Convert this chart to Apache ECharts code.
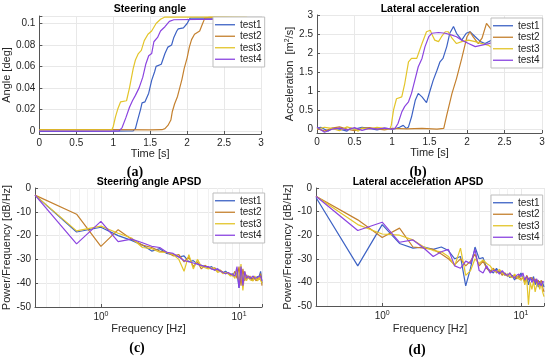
<!DOCTYPE html>
<html><head><meta charset="utf-8">
<script src="https://cdn.jsdelivr.net/npm/echarts@6/dist/echarts.min.js"></script>
<style>html,body{margin:0;padding:0;background:#fff}#c{width:550px;height:357px}</style>
</head><body><div id="c"></div>
<script>
// ---------- DATA ----------
const seriesNames = ['test1', 'test2', 'test3', 'test4'];
const seriesColors = ['#3D62C4', '#C4802E', '#E3C52A', '#8B44E0'];

// (a) Steering angle [deg] vs time [s]
const steerTest1 = [[0,-0.0005],[0.5,-0.0006],[1.0,-0.0004],[1.2,-0.0002],[1.27,0],[1.3,0.002],[1.33,0.01],[1.37,0.02],[1.39,0.026],[1.43,0.027],[1.48,0.035],[1.52,0.047],[1.56,0.055],[1.58,0.06],[1.65,0.062],[1.70,0.072],[1.74,0.078],[1.79,0.08],[1.82,0.087],[1.86,0.093],[1.88,0.095],[1.95,0.096],[2.0,0.1],[2.04,0.105],[2.5,0.1052],[3.0,0.1048]];
const steerTest2 = [[0,0.001],[1.0,0.001],[1.5,0.0008],[1.66,0.001],[1.70,0.002],[1.74,0.005],[1.78,0.01],[1.80,0.018],[1.83,0.025],[1.87,0.032],[1.90,0.04],[1.93,0.048],[1.96,0.058],[2.0,0.068],[2.03,0.078],[2.06,0.085],[2.1,0.09],[2.17,0.093],[2.21,0.1],[2.24,0.105],[2.3,0.1058],[3.0,0.1052]];
const steerTest3 = [[0,0.0008],[0.98,0.0008],[1.0,0.004],[1.03,0.013],[1.06,0.02],[1.1,0.027],[1.18,0.028],[1.22,0.04],[1.27,0.058],[1.3,0.066],[1.34,0.072],[1.38,0.075],[1.42,0.084],[1.47,0.09],[1.52,0.093],[1.58,0.1],[1.64,0.104],[1.7,0.106],[2.5,0.106],[2.8,0.1058],[2.9,0.1045],[3.0,0.1035]];
const steerTest4 = [[0,-0.0004],[1.0,-0.0003],[1.08,0],[1.12,0.003],[1.17,0.012],[1.22,0.022],[1.26,0.028],[1.3,0.033],[1.35,0.04],[1.4,0.05],[1.44,0.062],[1.48,0.07],[1.52,0.072],[1.55,0.083],[1.6,0.087],[1.64,0.093],[1.7,0.097],[1.76,0.102],[1.82,0.1035],[2.5,0.104],[2.75,0.1035],[3.0,0.1015]];

// (b) Lateral acceleration [m^2/s] vs time [s]
const accTest1 = [[0,0.03],[0.05,0.05],[0.1,0],[0.15,-0.05],[0.2,0.02],[0.3,0.0],[0.4,-0.05],[0.45,0.03],[0.5,0.0],[0.6,0.05],[0.7,0.02],[0.8,-0.02],[0.9,0.03],[1.0,0.0],[1.06,0.02],[1.1,0.05],[1.15,0.1],[1.19,0.02],[1.22,0.06],[1.26,0.32],[1.31,0.76],[1.35,0.94],[1.4,0.85],[1.46,0.7],[1.51,1.03],[1.55,1.29],[1.6,1.55],[1.64,1.77],[1.68,1.86],[1.73,2.17],[1.77,2.52],[1.82,2.7],[1.86,2.52],[1.93,2.34],[1.99,2.52],[2.04,2.56],[2.11,2.43],[2.18,2.3],[2.24,2.25],[2.33,2.34],[2.4,2.25],[2.47,2.17],[2.55,2.12],[2.64,2.17],[2.73,2.21],[2.82,2.17],[2.91,2.08],[3.0,2.04]];
const accTest2 = [[0,0.02],[0.1,-0.05],[0.2,0.03],[0.3,0.06],[0.4,0.0],[0.5,-0.04],[0.6,0.02],[0.7,0.04],[0.8,0.01],[0.9,-0.02],[1.0,0.02],[1.2,0.01],[1.4,0.02],[1.6,0.0],[1.69,0.02],[1.73,0.37],[1.8,0.94],[1.86,1.33],[1.93,1.86],[2.0,2.43],[2.04,2.56],[2.08,2.43],[2.15,2.25],[2.2,2.39],[2.26,2.78],[2.28,2.82],[2.33,2.6],[2.38,2.43],[2.47,2.25],[2.55,2.21],[2.64,2.25],[2.73,2.12],[2.82,2.17],[2.91,2.12],[3.0,2.08]];
const accTest3 = [[0,0.0],[0.1,0.05],[0.2,0.02],[0.3,-0.04],[0.4,0.06],[0.5,0.0],[0.55,-0.05],[0.6,0.03],[0.7,0.0],[0.8,0.05],[0.9,0.02],[0.97,0.0],[0.99,0.1],[1.02,0.5],[1.06,0.8],[1.13,0.85],[1.17,1.2],[1.22,1.77],[1.26,1.86],[1.33,1.86],[1.4,2.25],[1.46,2.56],[1.51,2.6],[1.53,2.5],[1.57,2.34],[1.62,2.3],[1.66,2.43],[1.71,2.56],[1.75,2.56],[1.8,2.39],[1.86,2.25],[1.93,2.3],[2.02,2.34],[2.11,2.3],[2.2,2.25],[2.29,2.2],[2.38,2.08],[2.47,2.12],[2.55,2.17],[2.64,2.17],[2.73,2.12],[2.82,2.17],[2.91,2.12],[3.0,2.04]];
const accTest4 = [[0,0.05],[0.1,-0.08],[0.2,0.0],[0.3,0.03],[0.4,-0.02],[0.5,0.04],[0.6,-0.03],[0.7,0.02],[0.8,0.0],[0.9,0.03],[1.0,0.0],[1.04,0.02],[1.08,0.15],[1.13,0.45],[1.17,0.6],[1.22,0.72],[1.26,0.94],[1.31,1.33],[1.35,1.64],[1.4,1.86],[1.44,2.17],[1.49,2.43],[1.53,2.52],[1.62,2.54],[1.71,2.52],[1.8,2.47],[1.86,2.43],[1.93,2.34],[2.02,2.25],[2.11,2.17],[2.2,2.21],[2.29,2.25],[2.38,2.3],[2.42,2.34],[2.51,2.25],[2.6,2.3],[2.69,2.25],[2.78,2.21],[2.91,2.17],[3.0,2.08]];

// APSD frequency bins [Hz]
const psdFreq = [0.3333,0.6667,1,1.3333,1.6667,2,2.3333,2.6667,3,3.3333,3.6667,4,4.3333,4.6667,5,5.3333,5.6667,6,6.3333,6.6667,7,7.3333,7.6667,8,8.3333,8.6667,9,9.3333,9.6667,10,10.3333,10.6667,11,11.3333,11.6667,12,12.3333,12.6667,13,13.3333,13.6667,14,14.3333,14.6667];

// (c) Steering angle APSD [dB/Hz]
const steerPsd1 = [-3,-18.5,-16.5,-20,-22,-24,-26.5,-25.5,-27.5,-28,-29,-28.5,-31,-30.5,-32,-32.5,-33,-33.5,-33,-34.5,-34,-35,-35.5,-35,-36,-36.5,-36,-37,-35.5,-42,-34,-40,-36,-38.5,-37,-38,-37.5,-38,-38.5,-37.5,-38,-37,-35,-40];
const steerPsd2 = [-3,-11,-24.5,-17.5,-21.5,-24,-25,-26.5,-27,-28.5,-28,-31,-29,-33,-31,-34,-32.5,-33.5,-34,-33.5,-35,-34.5,-35.5,-36,-35.5,-36.5,-37,-35,-38,-33,-41,-34,-39,-36.5,-38,-37,-39,-37.5,-38,-39,-37.5,-38.5,-36,-41];
const steerPsd3 = [-3,-18,-16,-19,-21,-25,-25.5,-27,-27,-28,-30,-35,-28,-34,-30,-33,-33.5,-34,-33.5,-34,-35.5,-35,-36,-35.5,-36,-37,-36.5,-38,-34,-40,-32,-43,-35,-39,-37,-38.5,-38,-39,-37,-38,-39,-37.5,-38,-40];
const steerPsd4 = [-3,-23.5,-14,-22.5,-21.5,-23,-24.5,-25,-27,-27.5,-29,-30.5,-31,-31.5,-32,-32.5,-33,-33,-34,-34.5,-34,-35,-35.5,-36,-35.5,-36,-36.5,-37,-33,-42,-33,-41,-35,-38,-37,-38,-37.5,-37,-38,-38.5,-37.5,-38,-37,-39];

// (d) Lateral acceleration APSD [dB/Hz]
const accPsd1 = [-4,-33,-15.5,-23.5,-25.5,-25,-26,-25,-26.5,-30,-29,-41.5,-34,-25,-30,-29.5,-34,-35,-36,-34,-36,-35.5,-37,-36.5,-38,-37,-39,-37.5,-38,-36,-38,-39.5,-37.5,-41,-38,-39,-37.5,-41,-39,-42,-39.5,-41,-40,-42];
const accPsd2 = [-3.5,-13.5,-21,-17,-25,-25.5,-26,-28,-30,-32.5,-30,-33,-31,-28,-33,-31,-34,-35.5,-34,-36,-35,-37,-36,-37.5,-36,-38,-37,-38.5,-37,-39,-38,-40,-37,-38.5,-39,-38,-40,-38.5,-40.5,-39,-41.5,-39,-42,-44];
const accPsd3 = [-3.5,-15.5,-19.5,-20,-22,-25,-26.5,-27,-29,-33,-25.5,-37,-35,-30,-32,-30.5,-32,-33,-35,-35.5,-34.5,-36,-37,-36.5,-37.5,-38,-36.5,-37.5,-38.5,-39,-37.5,-41,-38,-49.5,-40,-43,-39.5,-44,-41,-40,-43,-40,-44,-46];
const accPsd4 = [-3.5,-18,-14.5,-23,-22,-25.5,-29,-27,-26,-33,-34,-31,-32,-26,-35,-36,-33,-36,-35,-35,-36.5,-35,-36.5,-37,-36,-37.5,-38,-37,-36.5,-37.5,-36,-39,-37.5,-39,-38,-40,-38.5,-40,-38.5,-41,-40,-41.5,-39.5,-40];

// minor grid positions of the log frequency axes
const logMinor = [0.4,0.5,0.6,0.7,0.8,0.9,2,3,4,5,6,7,8,9];

// ---------- CHART ----------
const FONT = '"Liberation Sans", Arial, sans-serif';
const TXT = '#262626';
const GRIDC = '#e8e8e8';

const grids = [
  {left: 39, top: 16, width: 222, height: 118},
  {left: 317, top: 15, width: 225, height: 118},
  {left: 35, top: 188, width: 227, height: 119},
  {left: 316, top: 188, width: 228, height: 118}
];

function baseAxis(extra) {
  return Object.assign({
    axisLine: {show: true, onZero: false, lineStyle: {color: '#555', width: 1}},
    axisTick: {show: true, inside: true, length: 3, lineStyle: {color: '#555'}},
    axisLabel: {color: TXT, fontSize: 10, fontFamily: FONT},
    splitLine: {show: true, lineStyle: {color: GRIDC, width: 1}},
    nameTextStyle: {color: TXT, fontSize: 11, fontFamily: FONT},
    nameLocation: 'middle'
  }, extra);
}

function onMultiple(v, step) {
  const q = v / step;
  return Math.abs(q - Math.round(q)) < 1e-6;
}

const logLabel = {
  color: TXT, fontSize: 10, fontFamily: FONT, margin: 4,
  formatter: function (v) {
    if (Math.abs(v - 1) < 1e-6) return '10{sup|0}';
    if (Math.abs(v - 10) < 1e-6) return '10{sup|1}';
    return '';
  },
  rich: {sup: {fontSize: 7, color: TXT, fontFamily: FONT, verticalAlign: 'top', padding: [0, 0, 6, 0]}}
};

const xAxes = [
  baseAxis({gridIndex: 0, type: 'value', min: 0, max: 3, interval: 0.5, name: 'Time [s]', nameGap: 14,
    axisLabel: {color: TXT, fontSize: 10, fontFamily: FONT, margin: 4}}),
  baseAxis({gridIndex: 1, type: 'value', min: 0, max: 3, interval: 0.5, name: 'Time [s]', nameGap: 14,
    axisLabel: {color: TXT, fontSize: 10, fontFamily: FONT, margin: 4}}),
  baseAxis({gridIndex: 2, type: 'log', logBase: 10, min: 1/3, max: 44/3, name: 'Frequency [Hz]', nameGap: 16,
    axisLabel: logLabel}),
  baseAxis({gridIndex: 3, type: 'log', logBase: 10, min: 1/3, max: 44/3, name: 'Frequency [Hz]', nameGap: 17,
    axisLabel: logLabel})
];

const yAxes = [
  baseAxis({gridIndex: 0, type: 'value', min: -0.003, max: 0.107, splitNumber: 5, name: 'Angle [deg]', nameGap: 24,
    axisLabel: {color: TXT, fontSize: 10, fontFamily: FONT, margin: 4,
      formatter: v => onMultiple(v, 0.02) ? String(Math.round(v * 100) / 100) : ''}}),
  baseAxis({gridIndex: 1, type: 'value', min: -0.1, max: 3, splitNumber: 6, name: 'Acceleration  [m{sup|2}/s]', nameGap: 17,
    nameTextStyle: {color: TXT, fontSize: 11, fontFamily: FONT,
      rich: {sup: {fontSize: 7, color: TXT, fontFamily: FONT, verticalAlign: 'top', padding: [0, 0, 6, 0]}}},
    axisLabel: {color: TXT, fontSize: 10, fontFamily: FONT, margin: 4,
      formatter: v => onMultiple(v, 0.5) ? String(Math.round(v * 10) / 10) : ''}}),
  baseAxis({gridIndex: 2, type: 'value', min: -50, max: 0, interval: 10, name: 'Power/Frequency [dB/Hz]', nameGap: 18,
    axisLabel: {color: TXT, fontSize: 10, fontFamily: FONT, margin: 4}}),
  baseAxis({gridIndex: 3, type: 'value', min: -50, max: 0, interval: 10, name: 'Power/Frequency [dB/Hz]', nameGap: 20,
    axisLabel: {color: TXT, fontSize: 10, fontFamily: FONT, margin: 4}})
];

const panelData = [
  [steerTest1, steerTest2, steerTest3, steerTest4],
  [accTest1, accTest2, accTest3, accTest4],
  [steerPsd1, steerPsd2, steerPsd3, steerPsd4].map(arr => arr.map((v, i) => [psdFreq[i], v])),
  [accPsd1, accPsd2, accPsd3, accPsd4].map(arr => arr.map((v, i) => [psdFreq[i], v]))
];

const series = [];
// faint minor grid lines of the log frequency axes, kept beneath the data lines
[2, 3].forEach(p => {
  series.push({
    type: 'line', xAxisIndex: p, yAxisIndex: p, data: [], z: 0, silent: true,
    markLine: {
      z: 0, silent: true, symbol: ['none', 'none'], animation: false,
      label: {show: false},
      emphasis: {disabled: true},
      lineStyle: {color: '#f1f1f1', type: 'solid', width: 1},
      data: logMinor.map(v => ({xAxis: v}))
    }
  });
});
panelData.forEach((group, p) => {
  group.forEach((d, i) => {
    series.push({
      name: seriesNames[i], type: 'line', xAxisIndex: p, yAxisIndex: p,
      data: d, symbol: 'none', showSymbol: false, z: 3,
      lineStyle: {color: seriesColors[i], width: 1.2, type: 'solid'},
      itemStyle: {color: seriesColors[i]}
    });
  });
});

const legendPos = [
  {left: 213, top: 17}, {left: 491, top: 18}, {left: 213, top: 193}, {left: 491, top: 195}
];
const legends = legendPos.map(pos => ({
  show: true, left: pos.left, top: pos.top, orient: 'vertical', data: seriesNames,
  icon: 'rect', itemWidth: 20, itemHeight: 1.3, itemGap: 0, padding: [2, 3, 2, 2],
  backgroundColor: '#fff', borderColor: '#bdbdbd', borderWidth: 1,
  textStyle: {color: TXT, fontSize: 10, fontFamily: FONT, lineHeight: 11.5},
  z: 10
}));

function label(text, x, y, font) {
  return {type: 'text', x: x, y: y, z: 20,
    style: {text: text, font: font, fill: '#000', align: 'center', verticalAlign: 'middle'}};
}
const TITLE_FONT = 'bold 10.5px "Liberation Sans", Arial, sans-serif';
const SUB_FONT = 'bold 14px "Liberation Serif", "DejaVu Serif", serif';

const option = {
  animation: false,
  backgroundColor: '#fff',
  grid: grids,
  xAxis: xAxes,
  yAxis: yAxes,
  legend: legends,
  series: series,
  graphic: [
    label('Steering angle', 150, 9, TITLE_FONT),
    label('Lateral acceleration', 430, 9, TITLE_FONT),
    label('Steering angle APSD', 149, 182, TITLE_FONT),
    label('Lateral acceleration APSD', 418, 182, TITLE_FONT),
    label('(a)', 135, 172, SUB_FONT),
    label('(b)', 418, 172, SUB_FONT),
    label('(c)', 137, 348, SUB_FONT),
    label('(d)', 417, 350, SUB_FONT)
  ]
};

echarts.init(document.getElementById('c'), null, {renderer: 'canvas'}).setOption(option);
</script>
</body></html>
